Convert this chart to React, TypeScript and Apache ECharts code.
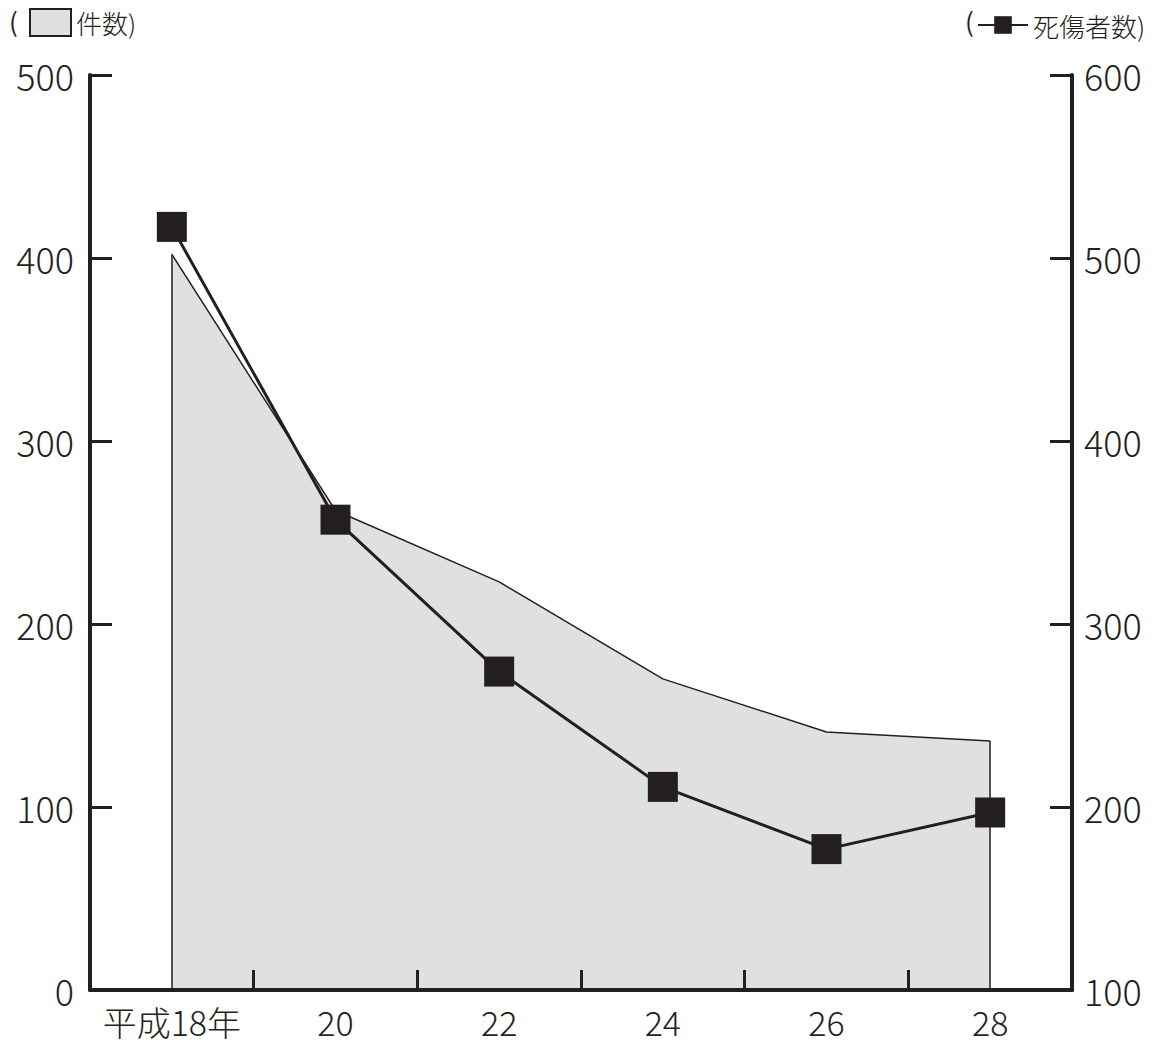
import React, { useEffect, useRef } from "react";
import * as echarts from "echarts";

const categories = ["平成18年", "20", "22", "24", "26", "28"];
const incidents = [402, 262, 223, 170, 141, 136];
const casualties = [517, 357, 274, 211, 177, 197];
const leftTicks = { min: 0, max: 500, interval: 100 };
const rightTicks = { min: 100, max: 600, interval: 100 };

const INK = "#231f20";
const FILL = "#dfe0e2";
const FONT = "'Noto Sans CJK JP', 'Noto Sans', sans-serif";

export default function App() {
  const ref = useRef<HTMLDivElement>(null);
  useEffect(() => {
    document.body.style.margin = "0";
    const chart = echarts.init(ref.current!, null, { renderer: "svg" });
    chart.setOption({
      animation: false,
      backgroundColor: "#ffffff",
      textStyle: { fontFamily: FONT, color: INK },
      grid: { left: 90, right: 88, top: 75, bottom: 58, containLabel: false },
      legend: [
        {
          data: [
            {
              name: "件数",
              icon: "rect",
              itemStyle: { color: FILL, borderColor: INK, borderWidth: 2 },
            },
          ],
          left: 29,
          top: 8,
          padding: 0,
          itemWidth: 41,
          itemHeight: 27,
          formatter: "{name})",
          textStyle: { fontSize: 26, color: INK, fontFamily: FONT, fontWeight: 300 },
        },
        {
          data: ["死傷者数"],
          left: 977,
          top: 12,
          padding: 0,
          itemWidth: 50,
          itemHeight: 22,
          formatter: "{name})",
          textStyle: { fontSize: 26, color: INK, fontFamily: FONT, fontWeight: 300 },
        },
      ],
      graphic: [
        {
          type: "text",
          x: 9,
          y: 7,
          style: {
            text: "(",
            fontSize: 26,
            fontFamily: FONT,
            fill: INK,
          },
        },
        {
          type: "text",
          x: 965,
          y: 7,
          style: {
            text: "(",
            fontSize: 26,
            fontFamily: FONT,
            fill: INK,
          },
        },
      ],
      xAxis: {
        type: "category",
        data: categories,
        boundaryGap: true,
        z: 10,
        axisLine: { show: true, lineStyle: { color: INK, width: 4 } },
        axisTick: {
          show: true,
          inside: true,
          interval: 0,
          length: 20,
          lineStyle: { color: INK, width: 3 },
        },
        axisLabel: {
          interval: 0,
          fontSize: 34,
          fontWeight: 300,
          color: INK,
          margin: 14,
          fontFamily: FONT,
        },
        splitLine: { show: false },
      },
      yAxis: [
        {
          type: "value",
          ...leftTicks,
          position: "left",
          z: 10,
          axisLine: { show: true, lineStyle: { color: INK, width: 4 } },
          axisTick: { show: true, inside: true, length: 22, lineStyle: { color: INK, width: 3 } },
          axisLabel: { fontSize: 36, fontWeight: 300, color: INK, margin: 16, fontFamily: FONT },
          splitLine: { show: false },
        },
        {
          type: "value",
          ...rightTicks,
          position: "right",
          z: 10,
          axisLine: { show: true, lineStyle: { color: INK, width: 4 } },
          axisTick: { show: true, inside: true, length: 22, lineStyle: { color: INK, width: 3 } },
          axisLabel: { fontSize: 36, fontWeight: 300, color: INK, margin: 12, fontFamily: FONT },
          splitLine: { show: false },
        },
      ],
      series: [
        {
          name: "件数",
          type: "line",
          yAxisIndex: 0,
          data: incidents,
          symbol: "none",
          lineStyle: { color: INK, width: 1.5 },
          itemStyle: { color: FILL },
          areaStyle: { color: FILL, opacity: 1 },
          z: 1,
          markLine: {
            silent: true,
            symbol: "none",
            label: { show: false },
            lineStyle: { color: INK, width: 1.5, type: "solid" },
            data: [
              [
                { coord: [categories[0], 0] },
                { coord: [categories[0], incidents[0]] },
              ],
              [
                { coord: [categories[categories.length - 1], 0] },
                { coord: [categories[categories.length - 1], incidents[incidents.length - 1]] },
              ],
            ],
          },
        },
        {
          name: "死傷者数",
          type: "line",
          yAxisIndex: 1,
          data: casualties,
          symbol: "rect",
          symbolSize: 30,
          lineStyle: { color: INK, width: 3 },
          itemStyle: { color: INK },
          z: 3,
        },
      ],
    });
    return () => chart.dispose();
  }, []);
  return <div ref={ref} style={{ width: 1160, height: 1048 }} />;
}
